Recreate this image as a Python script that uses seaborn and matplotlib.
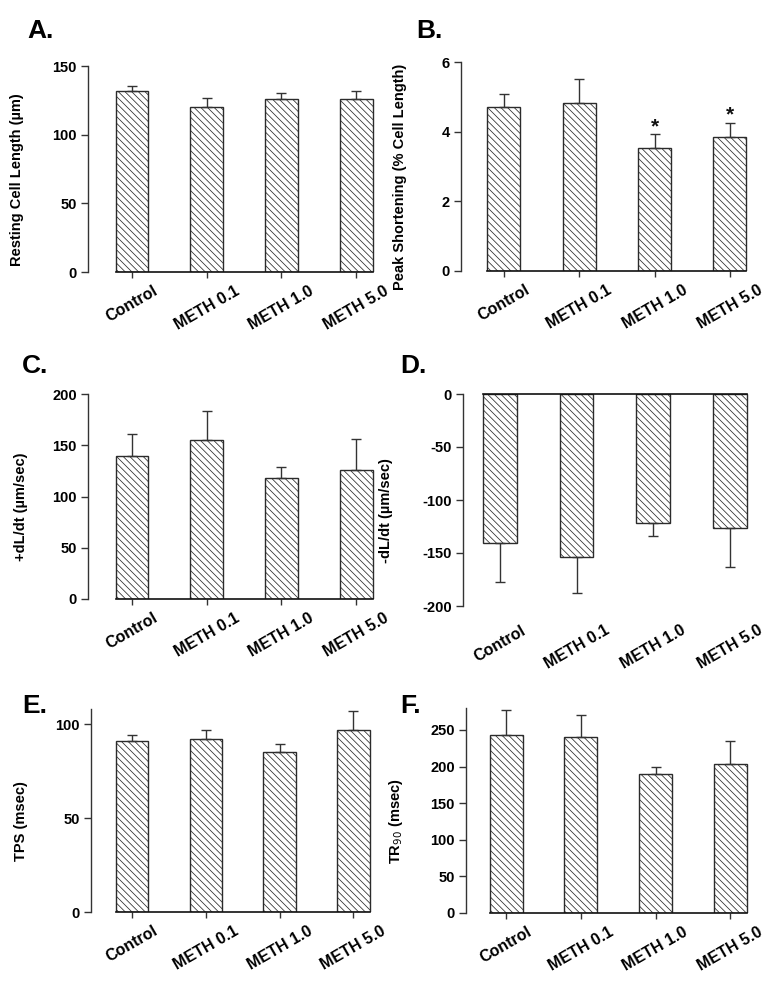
import matplotlib
matplotlib.use("Agg")
import matplotlib.pyplot as plt
import seaborn as sns
import pandas as pd
import numpy as np

# ---------------- data ----------------
groups = ["Control", "METH 0.1", "METH 1.0", "METH 5.0"]

rcl_mean = [131.8, 120.2, 126.0, 126.0]
rcl_err = [3.4, 6.3, 4.1, 6.0]

ps_mean = [4.70, 4.81, 3.53, 3.85]
ps_err = [0.39, 0.71, 0.39, 0.40]
ps_sig = [False, False, True, True]

pdl_mean = [140.0, 155.0, 118.0, 126.0]
pdl_err = [21.0, 28.0, 11.0, 30.0]

ndl_mean = [-140.5, -153.8, -122.0, -126.0]
ndl_err = [37.0, 34.0, 12.0, 37.0]

tps_mean = [91.0, 92.0, 85.0, 97.0]
tps_err = [3.0, 5.0, 4.5, 10.0]

tr_mean = [243.0, 241.0, 190.0, 204.0]
tr_err = [34.0, 29.0, 10.0, 31.0]

# ---------------- style ----------------
sns.set_style("ticks")
plt.rcParams["font.family"] = ["Liberation Sans", "DejaVu Sans"]
plt.rcParams["axes.unicode_minus"] = False
plt.rcParams["hatch.linewidth"] = 0.55
plt.rcParams["hatch.color"] = "#444444"
plt.rcParams["text.color"] = "black"
plt.rcParams["xtick.color"] = "#333333"
plt.rcParams["ytick.color"] = "#333333"
plt.rcParams["xtick.labelcolor"] = "black"
plt.rcParams["ytick.labelcolor"] = "black"
plt.rcParams["axes.labelcolor"] = "black"

EDGE = "#2b2b2b"
W, H = 776, 1000
fig = plt.figure(figsize=(W / 100, H / 100), dpi=100)


def make_ax(left, right, top, bottom):
    return fig.add_axes([left / W, 1 - bottom / H, (right - left) / W, (bottom - top) / H])


panels = [
    dict(letter="A.", lpos=(27, 38), box=(88, 386, 66, 272), xlim=(-0.59, 3.4), ylim=(0, 150),
         yticks=[0, 50, 100, 150], mean=rcl_mean, err=rcl_err,
         ylabel="Resting Cell Length (µm)", lx=-0.215),
    dict(letter="B.", lpos=(416, 38), box=(461, 760, 62, 271), xlim=(-0.57, 3.4), ylim=(0, 6),
         yticks=[0, 2, 4, 6], mean=ps_mean, err=ps_err,
         ylabel="Peak Shortening (% Cell Length)", lx=-0.18),
    dict(letter="C.", lpos=(22, 373), box=(88, 386, 394, 599), xlim=(-0.59, 3.4), ylim=(0, 200),
         yticks=[0, 50, 100, 150, 200], mean=pdl_mean, err=pdl_err,
         ylabel="+dL/dt (µm/sec)", lx=-0.2),
    dict(letter="D.", lpos=(400, 373), box=(463, 757, 394, 606), xlim=(-0.48, 3.35), ylim=(-200, 0),
         yticks=[-200, -150, -100, -50, 0], mean=ndl_mean, err=ndl_err,
         ylabel="-dL/dt (µm/sec)", lx=-0.238),
    dict(letter="E.", lpos=(22, 713), box=(91, 383, 709, 912), xlim=(-0.556, 3.4), ylim=(0, 108),
         yticks=[0, 50, 100], mean=tps_mean, err=tps_err,
         ylabel="TPS (msec)", lx=-0.216),
    dict(letter="F.", lpos=(400, 713), box=(466, 760, 708, 913), xlim=(-0.54, 3.4), ylim=(0, 280),
         yticks=[0, 50, 100, 150, 200, 250], mean=tr_mean, err=tr_err,
         ylabel="TR$_{90}$ (msec)", lx=-0.207),
]

BAR_W = 0.44

for i, p in enumerate(panels):
    l, r, t, b = p["box"]
    ax = make_ax(l, r, t, b)
    df = pd.DataFrame({"group": groups, "value": p["mean"]})
    sns.barplot(data=df, x="group", y="value", ax=ax, width=BAR_W, color="white",
                edgecolor=EDGE, linewidth=1.0, errorbar=None, saturation=1)
    for patch in ax.patches:
        patch.set_hatch("\\\\\\\\\\")
        patch.set_facecolor("white")
        patch.set_edgecolor(EDGE)
    mean = np.array(p["mean"])
    err = np.array(p["err"])
    xs = np.arange(len(groups))
    neg = mean[0] < 0
    if neg:
        yerr = [err, np.zeros_like(err)]
    else:
        yerr = [np.zeros_like(err), err]
    ax.errorbar(xs, mean, yerr=yerr, fmt="none", ecolor="#333333", elinewidth=1.0,
                capsize=3.5, capthick=1.0, zorder=1)

    ax.set_xlim(*p["xlim"])
    ax.set_ylim(*p["ylim"])
    ax.set_yticks(p["yticks"])
    ax.set_xlabel("")
    ax.set_ylabel(p["ylabel"], fontsize=10.5, fontweight="bold")
    ax.yaxis.set_label_coords(p["lx"], 0.45)

    ax.spines["right"].set_visible(False)
    ax.spines["left"].set_color("#333333")
    ax.spines["left"].set_linewidth(1.0)
    bnd = (-BAR_W / 2, 3 + BAR_W / 2)
    if neg:
        ax.spines["bottom"].set_visible(False)
        ax.spines["top"].set_visible(True)
        ax.spines["top"].set_bounds(*bnd)
        ax.spines["top"].set_color("#111111")
        ax.spines["top"].set_linewidth(1.2)
        ax.xaxis.tick_bottom()
        ax.tick_params(axis="x", length=0, pad=12)
    else:
        ax.spines["top"].set_visible(False)
        ax.spines["bottom"].set_bounds(*bnd)
        ax.spines["bottom"].set_color("#111111")
        ax.spines["bottom"].set_linewidth(1.2)
        ax.tick_params(axis="x", length=4, width=1.0, pad=4)
    ax.tick_params(axis="y", length=5, width=1.0, pad=3)
    for lab in ax.get_yticklabels():
        lab.set_fontweight("bold")
        lab.set_fontsize(10.5)
    ax.set_xticks(xs)
    ax.set_xticklabels(groups, rotation=30, ha="center", va="top", fontsize=11.5,
                       fontweight="bold")

    if p["letter"] == "B.":
        for x, m, e, s in zip(xs, mean, err, ps_sig):
            if s:
                ax.text(x, m + e + 0.22, "*", ha="center", va="center", fontsize=15,
                        fontweight="bold", color="#111111")

    fig.text(p["lpos"][0] / W, 1 - p["lpos"][1] / H, p["letter"], fontsize=19,
             fontweight="bold", ha="left", va="baseline")

fig.savefig("out.png", dpi=100, facecolor="white")
